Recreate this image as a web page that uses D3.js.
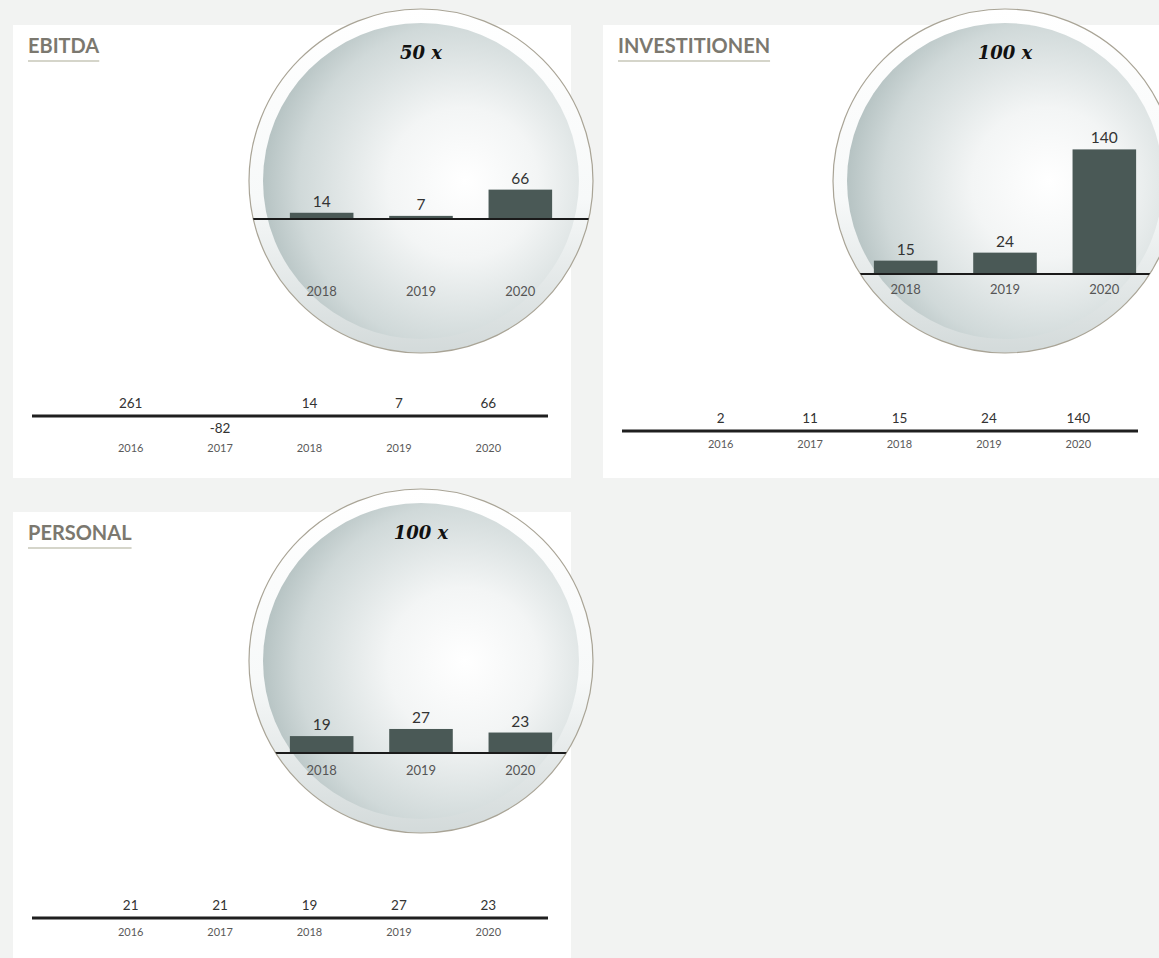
<!DOCTYPE html>
<html>
<head>
<meta charset="utf-8">
<script src="https://cdn.jsdelivr.net/npm/d3@7"></script>
<style>
  html, body { margin: 0; padding: 0; background: #f2f3f2; }
  svg { display: block; }
</style>
</head>
<body>
<svg id="chart" width="1159" height="958"></svg>
<script>
// ---------- data ----------
const years = ["2016", "2017", "2018", "2019", "2020"];
const zoomYears = ["2018", "2019", "2020"];
const titles = ["EBITDA", "INVESTITIONEN", "PERSONAL"];
const ebitdaValues = [261, -82, 14, 7, 66];
const investValues = [2, 11, 15, 24, 140];
const personalValues = [21, 21, 19, 27, 23];
const zoomFactors = [50, 100, 100];
const zoomLabels = ["50 x", "100 x", "100 x"];

// ---------- layout ----------
const layout = [
  { x: 13, y: 25, w: 558, h: 453, lineY: 416, yearY: 452,
    c: { cx: 421, cy: 181, r: 172 }, zBase: 219, zYear: 295.5 },
  { x: 603, y: 25, w: 558, h: 453, lineY: 431, yearY: 448,
    c: { cx: 1005, cy: 181, r: 172 }, zBase: 274, zYear: 293.5 },
  { x: 13, y: 512, w: 558, h: 450, lineY: 918, yearY: 936,
    c: { cx: 421, cy: 661, r: 172 }, zBase: 753, zYear: 774.5 }
];
const seriesList = [ebitdaValues, investValues, personalValues];

const svg = d3.select("#chart");
const defs = svg.append("defs");

const ring = defs.append("linearGradient").attr("id", "ringGrad")
  .attr("x1", 0).attr("y1", 0).attr("x2", 0).attr("y2", 1);
ring.append("stop").attr("offset", 0).attr("stop-color", "#ffffff");
ring.append("stop").attr("offset", 0.55).attr("stop-color", "#f7f9f9");
ring.append("stop").attr("offset", 1).attr("stop-color", "#d3dada");

const disc = defs.append("radialGradient").attr("id", "discGrad")
  .attr("cx", "62%").attr("cy", "52%").attr("r", "68%")
  .attr("fx", "64%").attr("fy", "50%");
disc.append("stop").attr("offset", 0).attr("stop-color", "#ffffff");
disc.append("stop").attr("offset", 0.35).attr("stop-color", "#f3f5f5");
disc.append("stop").attr("offset", 0.75).attr("stop-color", "#d0d9d9");
disc.append("stop").attr("offset", 1).attr("stop-color", "#a9b8b8");

const numFont = "Lato, 'Noto Sans', sans-serif";
const barColor = "#4a5956";

// panel backgrounds
layout.forEach(p => {
  svg.append("rect").attr("x", p.x).attr("y", p.y)
    .attr("width", p.w).attr("height", p.h).attr("fill", "#ffffff");
});

layout.forEach((p, i) => {
  const values = seriesList[i];
  const g = svg.append("g");

  // title + underline
  const t = g.append("text").attr("x", p.x + 15).attr("y", p.y + 28)
    .attr("font-family", numFont).attr("font-weight", 700)
    .attr("font-size", 20).attr("fill", "#7b786f")
    .text(titles[i]);
  const tw = t.node().getComputedTextLength();
  g.append("rect").attr("x", p.x + 15).attr("y", p.y + 35)
    .attr("width", tw).attr("height", 2).attr("fill", "#d5d5ca");

  // ----- overview strip -----
  const x = d3.scaleBand().domain(years)
    .range([p.x + 73, p.x + 520]).padding(0);
  g.append("line").attr("x1", p.x + 19).attr("x2", p.x + 535)
    .attr("y1", p.lineY).attr("y2", p.lineY)
    .attr("stroke", "#1f1f1f").attr("stroke-width", 3);
  g.selectAll(".val").data(years).join("text")
    .attr("x", d => x(d) + x.bandwidth() / 2)
    .attr("y", (d, k) => values[k] >= 0 ? p.lineY - 8 : p.lineY + 17)
    .attr("text-anchor", "middle").attr("font-family", numFont)
    .attr("font-size", 13.5).attr("fill", "#333")
    .text((d, k) => values[k]);
  g.selectAll(".yr").data(years).join("text")
    .attr("x", d => x(d) + x.bandwidth() / 2)
    .attr("y", p.yearY)
    .attr("text-anchor", "middle").attr("font-family", numFont)
    .attr("font-size", 11).attr("fill", "#5a5a5a")
    .text(d => d);

  // ----- magnifier -----
  const c = p.c;
  const clipId = "clip" + i;
  defs.append("clipPath").attr("id", clipId)
    .append("circle").attr("cx", c.cx).attr("cy", c.cy).attr("r", c.r);

  g.append("circle").attr("cx", c.cx).attr("cy", c.cy).attr("r", c.r)
    .attr("fill", "url(#ringGrad)").attr("stroke", "#a9a496").attr("stroke-width", 1.2);
  g.append("circle").attr("cx", c.cx).attr("cy", c.cy).attr("r", c.r - 14)
    .attr("fill", "url(#discGrad)");

  const zg = g.append("g").attr("clip-path", `url(#${clipId})`);
  const zx = d3.scaleBand().domain(zoomYears)
    .range([c.cx - 149, c.cx + 149]).paddingInner(0.36).paddingOuter(0.18);
  const zy = d3.scaleLinear().domain([0, 1]).range([0, 0.0089 * zoomFactors[i]]);
  const zVals = zoomYears.map(yr => values[years.indexOf(yr)]);

  zg.selectAll(".zbar").data(zoomYears).join("rect")
    .attr("x", d => zx(d)).attr("width", zx.bandwidth())
    .attr("y", (d, k) => p.zBase - zy(zVals[k]))
    .attr("height", (d, k) => zy(zVals[k]))
    .attr("fill", barColor);
  zg.append("line").attr("x1", c.cx - c.r).attr("x2", c.cx + c.r)
    .attr("y1", p.zBase).attr("y2", p.zBase)
    .attr("stroke", "#1a1a1a").attr("stroke-width", 2.2);
  zg.selectAll(".zval").data(zoomYears).join("text")
    .attr("x", d => zx(d) + zx.bandwidth() / 2)
    .attr("y", (d, k) => p.zBase - zy(zVals[k]) - 6)
    .attr("text-anchor", "middle").attr("font-family", numFont)
    .attr("font-size", 15.5).attr("fill", "#333")
    .text((d, k) => zVals[k]);
  zg.selectAll(".zyr").data(zoomYears).join("text")
    .attr("x", d => zx(d) + zx.bandwidth() / 2)
    .attr("y", p.zYear)
    .attr("text-anchor", "middle").attr("font-family", numFont)
    .attr("font-size", 13).attr("fill", "#555")
    .text(d => d);

  g.append("text").attr("x", c.cx).attr("y", c.cy - 122)
    .attr("text-anchor", "middle")
    .attr("font-family", "'DejaVu Serif', 'Liberation Serif', serif")
    .attr("font-style", "italic").attr("font-weight", 700)
    .attr("font-size", 18).attr("fill", "#111")
    .text(zoomLabels[i]);
});
</script>
</body>
</html>
